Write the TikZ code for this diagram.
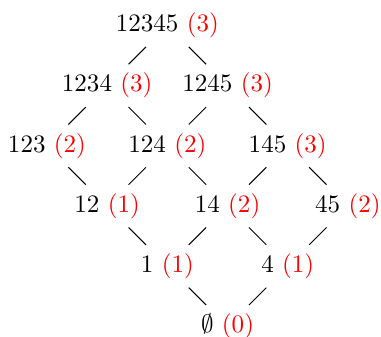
\documentclass[tikz,border=0pt]{standalone}
\usepackage{amsmath}
\usepackage{xcolor}
\usepackage{tikz}
\definecolor{rkred}{RGB}{255,0,0}
\newcommand{\rk}[1]{\textcolor{rkred}{(#1)}}

\begin{document}
\begin{tikzpicture}[x=24pt,y=-24pt]
\useasboundingbox (-18.74pt,10.17pt) rectangle (133.2pt,-124.2pt);

% top
\node (s12345) at (2,0) {12345 \rk{3}};
% four elements
\node (s1234) at (1,1) {1234 \rk{3}};
\node (s1245) at (3,1) {1245 \rk{3}};
% three elements
\node (s123) at (0,2) {123 \rk{2}};
\node (s124) at (2,2) {124 \rk{2}};
\node (s145) at (4,2) {145 \rk{3}};
% two elements
\node (s12) at (1,3) {12 \rk{1}};
\node (s14) at (3,3) {14 \rk{2}};
\node (s45) at (5,3) {45 \rk{2}};
% singletons
\node (s1) at (2,4) {1 \rk{1}};
\node (s4) at (4,4) {4 \rk{1}};
% bottom
\node (s0) at (3,5) {$\emptyset$ \rk{0}};

\foreach \a/\b in {12345/1234,12345/1245,1234/123,1234/124,1245/124,1245/145,
  123/12,124/12,124/14,145/14,145/45,12/1,14/1,14/4,45/4,1/0,4/0}{
  \draw (s\a) -- (s\b);
}
\end{tikzpicture}
\end{document}
